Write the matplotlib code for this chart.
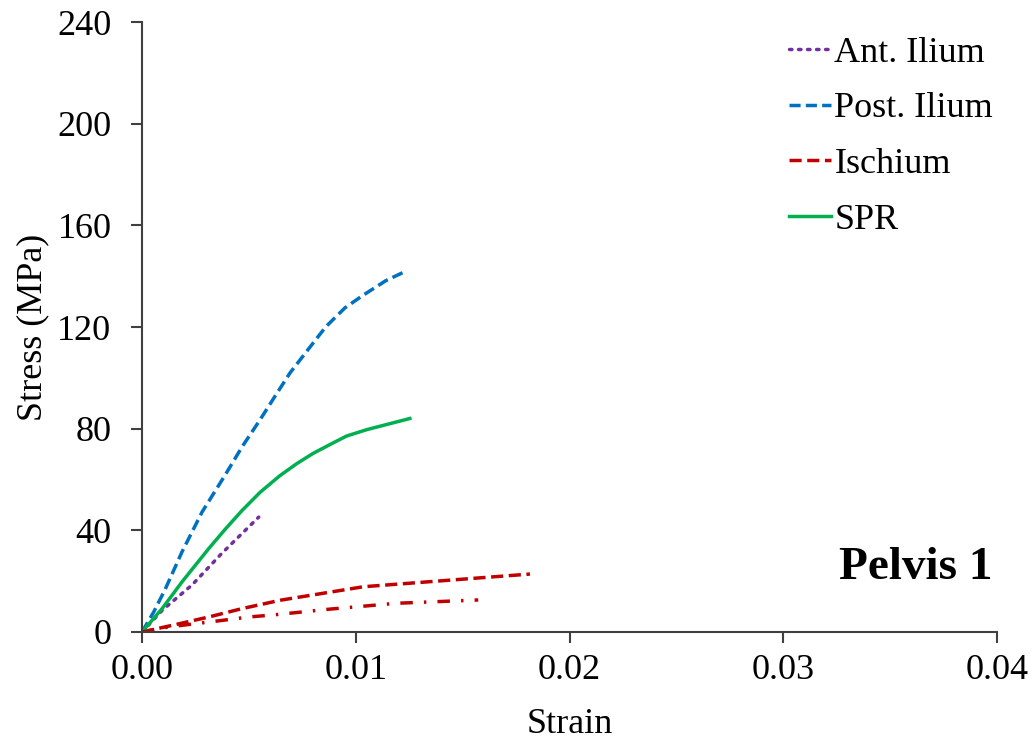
import matplotlib

matplotlib.use("Agg")

import matplotlib.pyplot as plt

plt.rcParams['font.family'] = ['Liberation Serif', 'DejaVu Serif']

# stress-strain curves (strain, MPa)
ant_strain = [0, 0.00047, 0.00094, 0.00234, 0.00374, 0.00546]
ant_stress = [0, 4.2, 8.5, 18.5, 31.0, 45.2]

post_strain = [0, 0.00055, 0.00109, 0.00187, 0.00281, 0.0039, 0.0047, 0.0055,
               0.00621, 0.00693, 0.00773, 0.0086, 0.00949, 0.01029, 0.0114, 0.0123]
post_stress = [0, 7.9, 16.9, 31.5, 47.2, 61.9, 73.1, 83.2,
               92.6, 102, 110.7, 120.1, 127.5, 132.2, 138.2, 141.8]

isch_strain = [0, 0.00156, 0.00312, 0.00468, 0.00647, 0.01035, 0.0144, 0.01815]
isch_stress = [0, 2.9, 5.9, 9.2, 12.5, 17.8, 20.4, 22.8]

isch2_strain = [0, 0.00125, 0.00312, 0.005, 0.00624, 0.00879, 0.01191, 0.01573]
isch2_stress = [0, 2.0, 3.9, 5.9, 6.8, 9.0, 11.3, 12.6]

spr_strain = [0, 0.00094, 0.00187, 0.00312, 0.0039, 0.00468, 0.00553, 0.00645,
              0.00725, 0.00801, 0.00885, 0.00957, 0.01051, 0.01253]
spr_stress = [0, 9.2, 19.7, 32.8, 40.5, 47.8, 55.0, 61.5,
              66.3, 70.3, 74.0, 77.1, 79.6, 84.0]

xticks = [0.00, 0.01, 0.02, 0.03, 0.04]
yticks = [0, 40, 80, 120, 160, 200, 240]

fig = plt.figure(figsize=(10.35, 7.41), dpi=100)
ax = fig.add_axes([0.1372, 0.1471, 0.8261, 0.8232])

lw = 2.5
ax.plot(ant_strain, ant_stress, color='#7030A0', lw=lw, dashes=(0.7, 1.9),
        dash_capstyle='round', label='Ant. Ilium')
ax.plot(post_strain, post_stress, color='#0070C0', lw=lw, dashes=(3.2, 1.5), label='Post. Ilium')
ax.plot(isch_strain, isch_stress, color='#C00000', lw=lw, dashes=(3.5, 1.6), label='Ischium')
ax.plot(spr_strain, spr_stress, color='#00B050', lw=lw, label='SPR')
ax.plot(isch2_strain, isch2_stress, color='#C00000', lw=lw, dashes=(3.6, 3.2, 0.7, 3.2), label='_nolegend_')

ax.set_xlim(0, 0.04)
ax.set_ylim(0, 240)
ax.set_xticks(xticks)
ax.set_xticklabels(['%.2f' % v for v in xticks])
ax.set_yticks(yticks)
ax.tick_params(labelsize=26, length=8, width=1.5, color='#404040', direction='out')
ax.tick_params(axis='y', pad=14)
ax.tick_params(axis='x', pad=8)

for s in ['top', 'right']:
    ax.spines[s].set_visible(False)
for s in ['left', 'bottom']:
    ax.spines[s].set_color('#404040')
    ax.spines[s].set_linewidth(1.5)

ax.set_xlabel('Strain', fontsize=26)
ax.set_ylabel('Stress (MPa)', fontsize=26)
ax.xaxis.set_label_coords(0.5, -0.125)
ax.yaxis.set_label_coords(-0.108, 0.5)

ax.text(0.995, 0.105, 'Pelvis 1', transform=ax.transAxes, ha='right', va='center',
        fontsize=34, fontweight='bold')

ax.legend(loc='upper left', bbox_to_anchor=(0.74, 1.0), frameon=False, fontsize=26,
          handlelength=1.15, handletextpad=0.1, labelspacing=0.62, borderaxespad=0)

fig.savefig('out.png', dpi=100)
